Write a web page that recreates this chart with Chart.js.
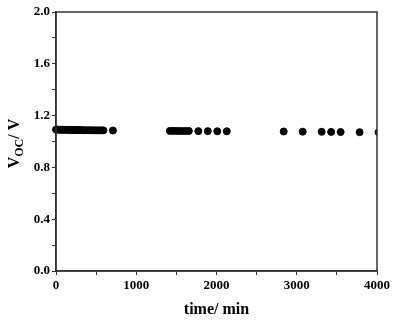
<!DOCTYPE html>
<html>
<head>
<meta charset="utf-8">
<script src="https://cdn.jsdelivr.net/npm/chart.js@4/dist/chart.umd.min.js"></script>
<style>
  html, body { margin: 0; padding: 0; background: #fff; }
  #wrap { width: 395px; height: 323px; position: relative; }
</style>
</head>
<body>
<div id="wrap"><canvas id="vocChart"></canvas></div>
<script>
// stability of open circuit voltage over time
const timeMin = [0, 20, 40, 60, 80, 100, 120, 140, 160, 180, 200, 220, 240, 260, 280, 300,
  330, 360, 390, 420, 450, 480, 510, 540, 570, 600, 720,
  1440, 1480, 1520, 1560, 1600, 1640, 1680, 1800, 1920, 2040, 2160,
  2880, 3120, 3360, 3480, 3600, 3840, 4080];
const vocValues = [1.092, 1.092, 1.091, 1.091, 1.091, 1.090, 1.090, 1.090, 1.090, 1.089, 1.089, 1.089, 1.089, 1.088, 1.088, 1.088,
  1.088, 1.087, 1.087, 1.087, 1.087, 1.086, 1.086, 1.086, 1.086, 1.086, 1.085,
  1.082, 1.082, 1.082, 1.081, 1.081, 1.081, 1.081, 1.080, 1.080, 1.079, 1.079,
  1.077, 1.076, 1.075, 1.074, 1.073, 1.072, 1.071];
const xTickLabels = ['0', '1000', '2000', '3000', '4000'];
const yTickLabels = ['0.0', '0.4', '0.8', '1.2', '1.6', '2.0'];

const points = timeMin.map((t, i) => ({ x: t, y: vocValues[i] }));
const axisColor = '#333';
const tickFont = { family: 'Liberation Serif', size: 13, weight: 'bold' };

// frame on top/right plus the y title with a subscript
const framePlugin = {
  id: 'frame',
  afterDraw(chart) {
    const { ctx, chartArea: a } = chart;
    ctx.save();
    ctx.strokeStyle = axisColor;
    ctx.lineWidth = 1.5;
    ctx.strokeRect(a.left, a.top, a.right - a.left, a.bottom - a.top);

    ctx.translate(15, (a.top + a.bottom) / 2 + 2);
    ctx.rotate(-Math.PI / 2);
    ctx.fillStyle = '#000';
    ctx.textBaseline = 'middle';
    const big = 'bold 16px "Liberation Serif"';
    const small = 'bold 12px "Liberation Serif"';
    ctx.font = big;
    const w1 = ctx.measureText('V').width;
    ctx.font = small;
    const w2 = ctx.measureText('OC').width;
    ctx.font = big;
    const w3 = ctx.measureText('/ V').width;
    let x = -(w1 + w2 + w3) / 2;
    ctx.fillText('V', x, 0);
    x += w1;
    ctx.font = small;
    ctx.fillText('OC', x, 5);
    x += w2;
    ctx.font = big;
    ctx.fillText('/ V', x, 0);
    ctx.restore();
  }
};

new Chart(document.getElementById('vocChart'), {
  type: 'scatter',
  data: {
    datasets: [{
      data: points,
      backgroundColor: '#000',
      borderColor: '#000',
      pointRadius: 3.5,
      pointHoverRadius: 3.5,
      clip: { left: 6, top: 0, right: 0, bottom: 0 }
    }]
  },
  options: {
    responsive: true,
    maintainAspectRatio: false,
    animation: false,
    layout: { padding: { top: 12, right: 18, left: 0, bottom: 4 } },
    plugins: { legend: { display: false }, tooltip: { enabled: false } },
    scales: {
      x: {
        type: 'linear',
        min: 0,
        max: 4060,
        border: { color: axisColor, width: 1.5 },
        grid: { drawOnChartArea: false, drawTicks: true, tickLength: 4, color: axisColor },
        ticks: {
          stepSize: 500,
          includeBounds: false,
          maxRotation: 0,
          minRotation: 0,
          autoSkip: false,
          padding: 3,
          color: '#000',
          font: tickFont,
          callback: v => {
            const k = Math.round(v / 500);
            return k % 2 === 0 ? xTickLabels[k / 2] : '';
          }
        },
        title: {
          display: true,
          text: 'time/ min',
          color: '#000',
          font: { family: 'Liberation Serif', size: 16, weight: 'bold' },
          padding: { top: 4, bottom: 0 }
        },
        afterFit: s => { s.height = 48; }
      },
      y: {
        min: 0,
        max: 2,
        border: { color: axisColor, width: 1.5 },
        grid: { drawOnChartArea: false, drawTicks: true, tickLength: 4, color: axisColor },
        ticks: {
          stepSize: 0.2,
          autoSkip: false,
          padding: 2,
          color: '#000',
          font: tickFont,
          callback: v => {
            const k = Math.round(v * 10);
            return k % 4 === 0 ? yTickLabels[k / 4] : '';
          }
        },
        afterFit: s => { s.width = 56; }
      }
    }
  },
  plugins: [framePlugin]
});
</script>
</body>
</html>
